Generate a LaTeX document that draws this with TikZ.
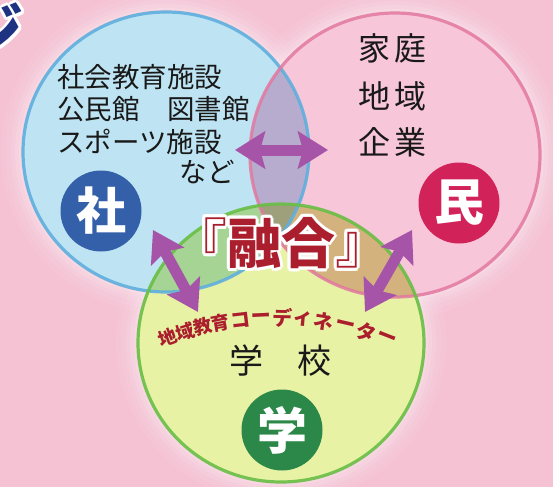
\documentclass[tikz,border=0pt]{standalone}
\usepackage{fontspec}
\newfontfamily\jp{Noto Sans CJK JP}
\usetikzlibrary{arrows.meta}
\definecolor{bgpink}{RGB}{245,194,212}
\definecolor{cblue}{RGB}{190,228,243}
\definecolor{cpink}{RGB}{247,198,216}
\definecolor{cgreen}{RGB}{232,242,165}
\definecolor{ovbp}{RGB}{183,172,205}
\definecolor{ovbg}{RGB}{166,212,148}
\definecolor{ovpg}{RGB}{212,178,126}
\definecolor{ovall}{RGB}{158,160,124}
\definecolor{eblue}{RGB}{95,175,222}
\definecolor{epink}{RGB}{226,120,160}
\definecolor{egreen}{RGB}{105,190,70}
\definecolor{dsha}{RGB}{52,96,170}
\definecolor{dmin}{RGB}{210,34,90}
\definecolor{dgaku}{RGB}{44,136,72}
\definecolor{apurple}{RGB}{166,84,168}
\definecolor{fred}{RGB}{170,30,45}
\definecolor{navyc}{RGB}{30,50,130}
\definecolor{inkc}{RGB}{25,25,25}
\tikzset{
  txt/.style={inner sep=0pt, text=inkc, font=\jp\fontsize{27.5}{30}\selectfont},
  txtb/.style={inner sep=0pt, text=inkc, font=\jp\fontsize{32}{34}\selectfont},
  disc/.style={circle, inner sep=0pt, minimum size=81pt, text=white, font=\jp\bfseries\fontsize{50}{52}\selectfont},
  dblarrow/.style={draw=apurple, line width=11pt,
    {Stealth[length=30pt,width=37pt,inset=5pt]}-{Stealth[length=30pt,width=37pt,inset=5pt]}},
  curvtxt/.style={inner sep=0pt, text=fred, font=\jp\bfseries\fontsize{18.5}{19}\selectfont},
  curvkana/.style={inner sep=0pt, text=fred, font=\jp\bfseries\fontsize{20}{21}\selectfont},
}
\def\blueC{(166,152) ellipse [x radius=143, y radius=140]}
\def\pinkC{(395,155) ellipse [x radius=145, y radius=142]}
\def\greenC{(281,343) ellipse [x radius=143, y radius=139]}
\begin{document}
\begin{tikzpicture}[x=1pt,y=-1pt]
\useasboundingbox (0,0) rectangle (553,487);
\clip (0,0) rectangle (553,487);
\fill[bgpink] (0,0) rectangle (553,487);
% soft white glow round the circles
\foreach \k/\o in {22/0.05,17/0.06,12/0.08,8/0.1,4/0.14}{
  \fill[white, opacity=\o] (166,152) ellipse [x radius=143+\k, y radius=140+\k];
  \fill[white, opacity=\o] (395,155) ellipse [x radius=145+\k, y radius=142+\k];
  \fill[white, opacity=\o] (281,343) ellipse [x radius=143+\k, y radius=139+\k];
}
% circle fills
\fill[cblue] \blueC;
\fill[cpink] \pinkC;
\fill[cgreen] \greenC;
\begin{scope}\clip \blueC; \fill[ovbp] \pinkC; \end{scope}
\begin{scope}\clip \blueC; \fill[ovbg] \greenC; \end{scope}
\begin{scope}\clip \pinkC; \fill[ovpg] \greenC; \end{scope}
\begin{scope}\clip \blueC; \clip \pinkC; \fill[ovall] \greenC; \end{scope}
% circle edges
\draw[eblue, line width=3.2pt, opacity=0.9] \blueC;
\draw[epink, line width=3.2pt, opacity=0.85] \pinkC;
\draw[egreen, line width=3.2pt, opacity=0.9] \greenC;
% cut-off title character
\foreach \a in {0,30,...,330}{
  \node[text=white, inner sep=0pt, font=\jp\bfseries\fontsize{60}{62}\selectfont, shift={(\a:3)}] (jihalo\a) at (-6,30) {ジ};
}
\node[text=navyc, inner sep=0pt, font=\jp\bfseries\fontsize{60}{62}\selectfont] (ji) at (-6,30) {ジ};
% texts of the blue circle
\node[txt, anchor=west] (s1) at (57,77) {社会教育施設};
\node[txt, anchor=west] (s2) at (57,109) {公民館　図書館};
\node[txt, anchor=west] (s3) at (57,142) {スポーツ施設};
\node[txt, anchor=east] (s4) at (235,172) {など};
% texts of the pink circle
\node[txtb] (m1) at (392,48) {家\hspace{4pt}庭};
\node[txtb] (m2) at (392,96) {地\hspace{4pt}域};
\node[txtb] (m3) at (392,142) {企\hspace{4pt}業};
% text of the green circle
\node[inner sep=0pt, text=inkc, font=\jp\fontsize{34}{36}\selectfont] (g1) at (280,361) {学　校};
% discs
\node[disc, fill=dsha] (sha) at (101,211) {社};
\node[disc, fill=dmin] (min) at (459,203) {民};
\node[disc, fill=dgaku] (gaku) at (282,430) {学};
% arrows
\coordinate (hL) at (235,150); \coordinate (hR) at (328,150);
\coordinate (lU) at (153,230); \coordinate (lD) at (198,312);
\coordinate (rU) at (412,230); \coordinate (rD) at (365,312);
\draw[dblarrow] (hL) -- (hR);
\draw[dblarrow] (lU) -- (lD);
\draw[dblarrow] (rU) -- (rD);
% fusion title
\foreach \a in {0,30,...,330}{
  \node[text=white, inner sep=0pt, font=\jp\fontsize{54}{56}\selectfont, shift={(\a:3)}] (yhalo\a) at (281,243) {『{\bfseries 融合}』};
}
\node[text=fred, inner sep=0pt, font=\jp\fontsize{54}{56}\selectfont] (yugo) at (281,243) {『{\bfseries 融合}』};
% curved coordinator text
\foreach \ch/\ang [count=\i] in {地/-20.6,域/-17.2,教/-13.8,育/-10.4}{
  \node[curvtxt, rotate={-\ang}] (ck\i) at ({276+307*sin(\ang)},{625-307*cos(\ang)}) {\ch};
}
\foreach \ch/\ang [count=\i] in {コ/-6.6,ー/-2.7,デ/1.2,ィ/5.1,ネ/9.0,ー/13.0,タ/17.1,ー/21.2}{
  \node[curvkana, rotate={-\ang}] (ca\i) at ({276+307*sin(\ang)},{625-307*cos(\ang)}) {\ch};
}
\end{tikzpicture}
\end{document}
